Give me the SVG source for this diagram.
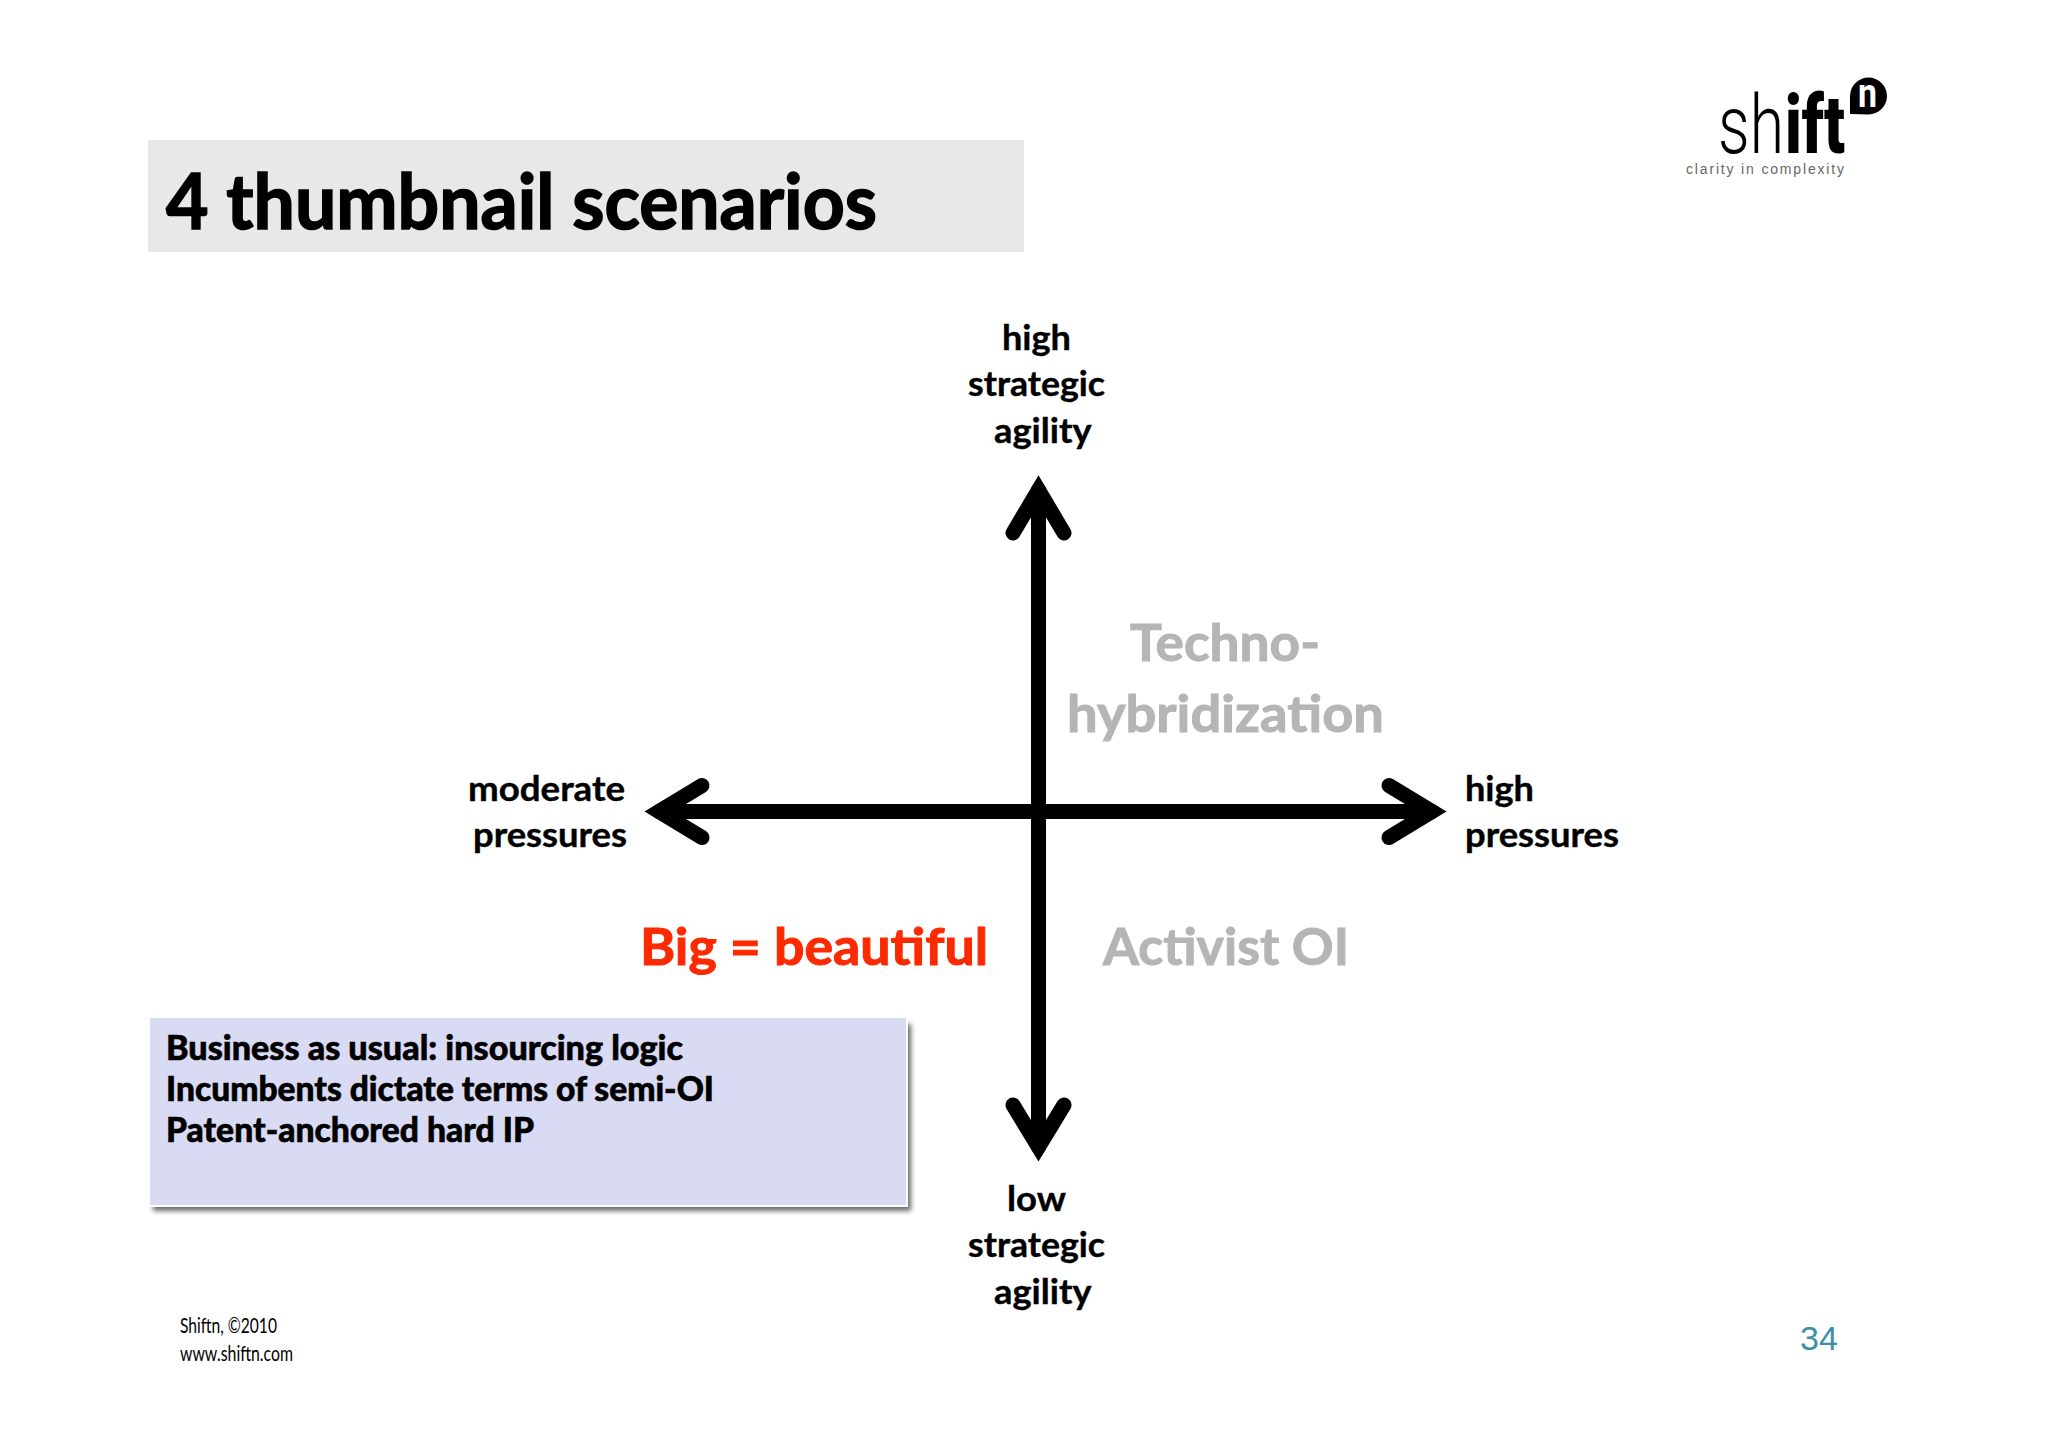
<svg xmlns="http://www.w3.org/2000/svg" width="2048" height="1447" viewBox="0 0 2048 1447">
<defs>
<style>
text{font-family:"Lato","Liberation Sans",sans-serif;font-weight:700;fill:#000}
.axis{font-size:35px;stroke:#000;stroke-width:.4px}
.grey{font-size:52px;fill:#b5b4b7;stroke:#b5b4b7;stroke-width:1px}
.red{font-size:52px;fill:#fb2a00;stroke:#fb2a00;stroke-width:1px}
.box{font-size:34px;font-weight:900;stroke:#000;stroke-width:.6px}
.foot{font-size:22px;font-weight:400}
.arrow{fill:none;stroke:#000;stroke-width:15;stroke-linecap:round;stroke-linejoin:miter;stroke-miterlimit:6}
</style>
<filter id="sh" x="-3%" y="-5%" width="106%" height="112%"><feGaussianBlur stdDeviation="2.5"/></filter>
</defs>
<rect width="2048" height="1447" fill="#fff"/>
<g id="title">
<rect x="148" y="140" width="876" height="112" fill="#e8e8e8"/>
<text x="166" y="229" font-size="76" font-weight="900" stroke="#000" stroke-width="1.6" textLength="711" lengthAdjust="spacingAndGlyphs">4 thumbnail scenarios</text>
</g>
<g id="logo">
<text x="1718" y="153" font-size="82" style="font-family:Roboto,sans-serif;font-weight:300" textLength="66" lengthAdjust="spacingAndGlyphs">sh</text>
<text x="1785" y="153" font-size="82" style="font-family:Roboto,sans-serif;font-weight:900" textLength="60" lengthAdjust="spacingAndGlyphs">ift</text>
<path d="M1850,114V96A18.5,18.5 0 1 1 1868.5,114.5Z" fill="#000"/>
<text x="1858" y="107" font-size="40" style="font-family:Roboto,sans-serif;font-weight:700;fill:#fff" textLength="19" lengthAdjust="spacingAndGlyphs">n</text>
<text x="1686" y="174" font-size="14" style="font-family:'Liberation Sans',sans-serif;font-weight:400;fill:#666" textLength="158" lengthAdjust="spacing">clarity in complexity</text>
</g>
<g id="connectors">
<path class="arrow" d="M1038.5,1147V490"/>
<path class="arrow" d="M1013,533L1038.5,490L1064,533"/>
<path class="arrow" d="M1013,1105L1038.5,1147L1064,1105"/>
<path class="arrow" d="M659,811.500H1432"/>
<path class="arrow" d="M702,785.500L659,811.500L702,837.500"/>
<path class="arrow" d="M1389,785.500L1432,811.500L1389,837.500"/>
</g>
<g id="top-label">
<text class="axis" x="1002" y="349.500" textLength="69" lengthAdjust="spacingAndGlyphs">high</text>
<text class="axis" x="968" y="395.500" textLength="137" lengthAdjust="spacingAndGlyphs">strategic</text>
<text class="axis" x="994" y="442.500" textLength="97.500" lengthAdjust="spacingAndGlyphs">agility</text>
</g>
<g id="bottom-label">
<text class="axis" x="1007" y="1211" textLength="59" lengthAdjust="spacingAndGlyphs">low</text>
<text class="axis" x="968" y="1257" textLength="137" lengthAdjust="spacingAndGlyphs">strategic</text>
<text class="axis" x="994" y="1304" textLength="97.500" lengthAdjust="spacingAndGlyphs">agility</text>
</g>
<g id="left-label">
<text class="axis" x="468" y="801" textLength="157" lengthAdjust="spacingAndGlyphs">moderate</text>
<text class="axis" x="473" y="847" textLength="154" lengthAdjust="spacingAndGlyphs">pressures</text>
</g>
<g id="right-label">
<text class="axis" x="1465" y="801" textLength="69" lengthAdjust="spacingAndGlyphs">high</text>
<text class="axis" x="1465" y="847" textLength="154" lengthAdjust="spacingAndGlyphs">pressures</text>
</g>
<g id="techno">
<text class="grey" x="1130" y="661" textLength="190" lengthAdjust="spacingAndGlyphs">Techno-</text>
<text class="grey" x="1067" y="732" textLength="317" lengthAdjust="spacingAndGlyphs">hybridization</text>
</g>
<g id="big"><text class="red" x="640" y="965" textLength="348" lengthAdjust="spacingAndGlyphs">Big = beautiful</text></g>
<g id="activist"><text class="grey" x="1103" y="965" textLength="246" lengthAdjust="spacingAndGlyphs">Activist OI</text></g>
<g id="note">
<rect x="153" y="1024" width="758" height="187" fill="#444" opacity=".8" filter="url(#sh)"/>
<rect x="149" y="1017" width="758" height="189" fill="#d9daf3" stroke="#fff" stroke-width="2"/>
<text class="box" x="166" y="1060" textLength="517" lengthAdjust="spacingAndGlyphs">Business as usual: insourcing logic</text>
<text class="box" x="166" y="1101" textLength="548" lengthAdjust="spacingAndGlyphs">Incumbents dictate terms of semi-OI</text>
<text class="box" x="166" y="1142" textLength="368" lengthAdjust="spacingAndGlyphs">Patent-anchored hard IP</text>
</g>
<g id="footer">
<text class="foot" x="180" y="1333" textLength="97" lengthAdjust="spacingAndGlyphs">Shiftn, ©2010</text>
<text class="foot" x="180" y="1361" textLength="113" lengthAdjust="spacingAndGlyphs">www.shiftn.com</text>
</g>
<g id="page"><text x="1800" y="1350" font-size="34" style="font-family:'Liberation Sans',sans-serif;font-weight:400;fill:#3d8fa8">34</text></g>
</svg>
